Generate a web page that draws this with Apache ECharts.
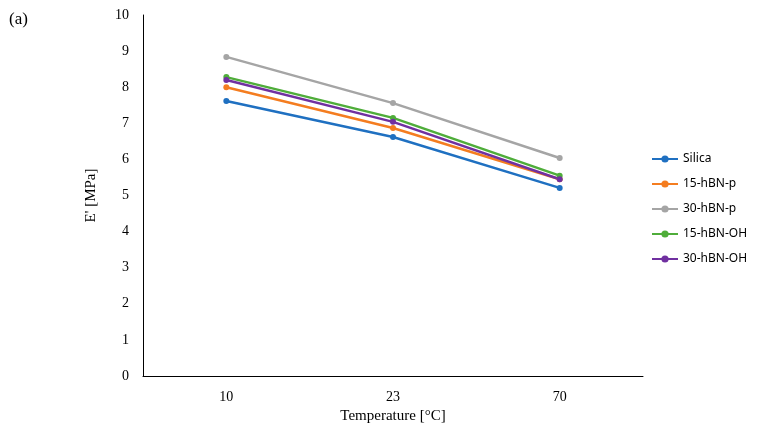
<!DOCTYPE html>
<html><head><meta charset="utf-8">
<script src="https://cdn.jsdelivr.net/npm/echarts@6/dist/echarts.min.js"></script>
<style>html,body{margin:0;padding:0;background:#fff}#c{width:765px;height:433px}</style>
</head><body><div id="c"></div>
<script>
const categories = ['10','23','70'];
const seriesNames = ['Silica','15-hBN-p','30-hBN-p','15-hBN-OH','30-hBN-OH'];
const silica = [7.62, 6.62, 5.21];
const hbn15p = [8.0, 6.87, 5.45];
const hbn30p = [8.84, 7.56, 6.04];
const hbn15oh = [8.28, 7.15, 5.55];
const hbn30oh = [8.2, 7.04, 5.45];
const colors = ['#1f70c1','#f47d20','#a5a5a5','#4fad3a','#7030a0'];
const values = [silica, hbn15p, hbn30p, hbn15oh, hbn30oh];
const font = 'Liberation Serif';
const chart = echarts.init(document.getElementById('c'));
chart.setOption({
  animation:false,
  textStyle:{fontFamily:font},
  title:{text:'(a)',left:4,top:6,textStyle:{fontFamily:font,fontSize:17,fontWeight:'normal',color:'#000'}},
  grid:{left:143,right:122,top:15,bottom:57},
  legend:{orient:'vertical',left:646,top:148,itemGap:13,itemWidth:26,itemHeight:9,
    textStyle:{fontFamily:'Noto Sans',fontSize:12,color:'#000'},
    data:seriesNames},
  xAxis:{type:'category',data:categories,boundaryGap:true,
    name:'Temperature [°C]',nameLocation:'middle',nameGap:33,
    nameTextStyle:{fontFamily:font,fontSize:15,color:'#000'},
    axisLine:{lineStyle:{color:'#000'}},axisTick:{show:false},
    axisLabel:{fontFamily:font,fontSize:14,color:'#000',margin:14}},
  yAxis:{type:'value',min:0,max:10,interval:1,
    name:"E' [MPa]",nameLocation:'middle',nameGap:44,
    nameTextStyle:{fontFamily:font,fontSize:15,color:'#000'},
    axisLine:{show:true,lineStyle:{color:'#000'}},axisTick:{show:false},splitLine:{show:false},
    axisLabel:{fontFamily:font,fontSize:14,color:'#000',margin:14}},
  series:values.map((v,i)=>({name:seriesNames[i],type:'line',data:v,
    symbol:'circle',symbolSize:6,color:colors[i],lineStyle:{width:2.5,color:colors[i]},
    itemStyle:{color:colors[i]}}))
});
</script></body></html>
